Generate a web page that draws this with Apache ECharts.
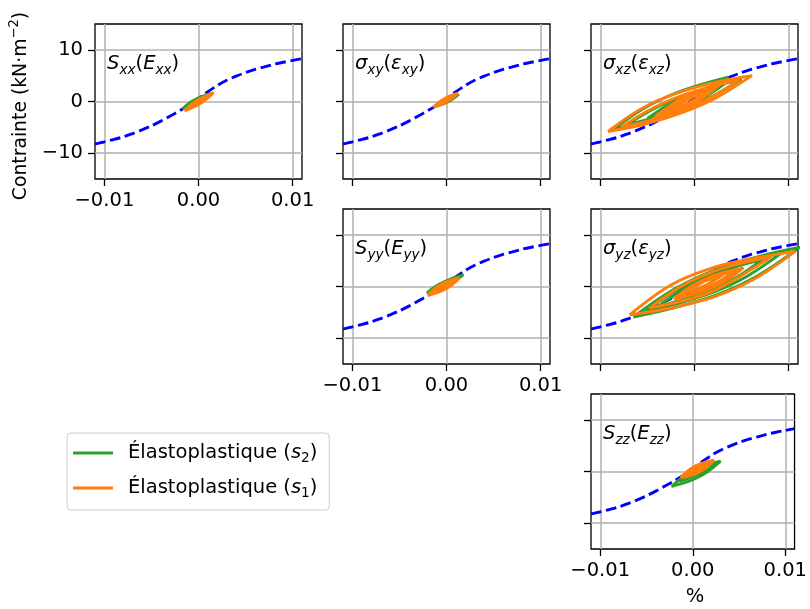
<!DOCTYPE html>
<html><head><meta charset="utf-8">
<script src="https://cdn.jsdelivr.net/npm/echarts@6/dist/echarts.min.js"></script>
<style>html,body{margin:0;padding:0;background:#fff}#c{width:810px;height:609px}</style>
</head><body><div id="c"></div>
<script>
// ---------- data ----------
const strainTicks = [-0.01, 0, 0.01];
const stressTicks = [-10, 0, 10];
const backboneStrain = [-0.011,-0.010,-0.009,-0.008,-0.007,-0.006,-0.005,-0.004,-0.003,-0.002,-0.001,0,0.001,0.002,0.003,0.004,0.005,0.006,0.007,0.008,0.009,0.010,0.011];
const backboneStress = [-8.2,-7.8,-7.35,-6.85,-6.2,-5.5,-4.7,-3.8,-2.8,-1.8,-0.7,0.6,1.9,3.1,4.1,4.9,5.6,6.2,6.7,7.2,7.6,7.95,8.3];
const seriesNames = ['Élastoplastique (s2)', 'Élastoplastique (s1)'];
const panelTitles = [
  '{m|S}{s|xx}{p|(}{m|E}{s|xx}{p|)}',
  '{m|σ}{s|xy}{p|(}{m|ε}{s|xy}{p|)}',
  '{m|σ}{s|xz}{p|(}{m|ε}{s|xz}{p|)}',
  '{m|S}{s|yy}{p|(}{m|E}{s|yy}{p|)}',
  '{m|σ}{s|yz}{p|(}{m|ε}{s|yz}{p|)}',
  '{m|S}{s|zz}{p|(}{m|E}{s|zz}{p|)}'
];
const sxxGreen = [
 [[-0.0017,-1.4],[-0.00095,-0.275],[-0.0002,0.525],[0.00055,1.075],[0.0013,1.5],[0.00055,0.375],[-0.0002,-0.425],[-0.00095,-0.975],[-0.0017,-1.4]]
];
const sxxOrange = [
 [[-0.0015,-1.8],[-0.000725,-0.525],[0.00005,0.425],[0.000825,1.125],[0.0016,1.7],[0.000825,0.425],[0.00005,-0.525],[-0.000725,-1.225],[-0.0015,-1.8]],
 [[-0.0012,-1.4],[-0.000575,-0.54],[0.00005,0.19],[0.000675,0.82],[0.0013,1.4],[0.000675,0.54],[0.00005,-0.19],[-0.000575,-0.82],[-0.0012,-1.4]]
];
const sxyGreen = [
 [[-0.0010,-0.9],[-0.000425,-0.045],[0.00015,0.58],[0.000725,1.035],[0.0013,1.4],[0.000725,0.545],[0.00015,-0.08],[-0.000425,-0.535],[-0.0010,-0.9]]
];
const sxyOrange = [
 [[-0.0014,-1.1],[-0.00075,-0.065],[-0.0001,0.68],[0.00055,1.195],[0.0012,1.6],[0.00055,0.565],[-0.0001,-0.18],[-0.00075,-0.695],[-0.0014,-1.1]],
 [[-0.0011,-0.8],[-0.0006,-0.115],[-0.0001,0.44],[0.0004,0.895],[0.0009,1.3],[0.0004,0.615],[-0.0001,0.06],[-0.0006,-0.395],[-0.0011,-0.8]]
];
const sxzGreen = [
 [[-0.0086,-5.4],[-0.00555,-1.515],[-0.0025,1.265],[0.00055,3.195],[0.0036,4.7],[0.00055,0.815],[-0.0025,-1.965],[-0.00555,-3.895],[-0.0086,-5.4]],
 [[-0.0072,-4.5],[-0.00415,-1.26],[-0.0011,1.135],[0.00195,2.88],[0.0050,4.3],[0.00195,1.06],[-0.0011,-1.335],[-0.00415,-3.08],[-0.0072,-4.5]],
 [[-0.0050,-3.3],[-0.00295,-0.825],[-0.0009,1.0],[0.00115,2.325],[0.0032,3.4],[0.00115,0.925],[-0.0009,-0.9],[-0.00295,-2.225],[-0.0050,-3.3]]
];
const sxzOrange = [
 [[-0.0092,-5.8],[-0.005375,-1.12],[-0.00155,1.8],[0.002275,3.73],[0.0061,5.0],[0.002275,0.7],[-0.00155,-2.3],[-0.005375,-4.4],[-0.0092,-5.8]],
 [[-0.0078,-5.0],[-0.00465,-1.5],[-0.0015,1.025],[0.00165,2.8],[0.0048,4.2],[0.00165,0.7],[-0.0015,-1.825],[-0.00465,-3.6],[-0.0078,-5.0]],
 [[-0.0045,-3.5],[-0.00265,-0.845],[-0.0008,1.095],[0.00105,2.485],[0.0029,3.6],[0.00105,0.945],[-0.0008,-0.995],[-0.00265,-2.385],[-0.0045,-3.5]],
 [[-0.0040,-3.1],[-0.0024,-0.9],[-0.0007,0.9],[0.0009,2.2],[0.0026,3.2],[0.0009,1.2],[-0.0007,-0.7],[-0.0024,-2.2],[-0.0040,-3.1]],
 [[-0.0035,-2.6],[-0.002075,-0.665],[-0.00065,0.815],[0.000775,1.945],[0.0022,2.9],[0.000775,0.965],[-0.00065,-0.515],[-0.002075,-1.645],[-0.0035,-2.6]],
 [[-0.0025,-1.8],[-0.0015,-0.48],[-0.0005,0.58],[0.0005,1.44],[0.0015,2.2],[0.0005,0.88],[-0.0005,-0.18],[-0.0015,-1.04],[-0.0025,-1.8]]
];
const syyGreen = [
 [[-0.0021,-1.3],[-0.001125,0.04],[-0.00015,1.02],[0.000825,1.73],[0.0018,2.3],[0.000825,0.96],[-0.00015,-0.02],[-0.001125,-0.73],[-0.0021,-1.3]]
];
const syyOrange = [
 [[-0.0020,-1.7],[-0.00115,-0.29],[-0.0003,0.665],[0.00055,1.27],[0.0014,1.7],[0.00055,0.29],[-0.0003,-0.665],[-0.00115,-1.27],[-0.0020,-1.7]],
 [[-0.0016,-1.3],[-0.000925,-0.41],[-0.00025,0.285],[0.000425,0.83],[0.0011,1.3],[0.000425,0.41],[-0.00025,-0.285],[-0.000925,-0.83],[-0.0016,-1.3]]
];
const syzGreen = [
 [[-0.0065,-5.9],[-0.002075,-0.445],[0.00235,3.32],[0.006775,5.785],[0.0112,7.6],[0.006775,2.145],[0.00235,-1.62],[-0.002075,-4.085],[-0.0065,-5.9]],
 [[-0.0052,-4.8],[-0.0016,-0.4],[0.002,2.7],[0.0056,4.8],[0.0092,6.4],[0.0056,2.0],[0.002,-1.1],[-0.0016,-3.2],[-0.0052,-4.8]],
 [[-0.0038,-3.8],[-0.00105,-0.35],[0.0017,2.125],[0.00445,3.85],[0.0072,5.2],[0.00445,1.75],[0.0017,-0.725],[-0.00105,-2.45],[-0.0038,-3.8]]
];
const syzOrange = [
 [[-0.0069,-5.5],[-0.0025,0.3],[0.0019,3.6],[0.0063,5.465],[0.0107,6.8],[0.0063,1.405],[0.0019,-2.105],[-0.0025,-4.165],[-0.0069,-5.5]],
 [[-0.0048,-4.2],[-0.00155,-0.1],[0.0017,2.7],[0.00495,4.5],[0.0082,5.8],[0.00495,2.1],[0.0017,-1.1],[-0.00155,-2.9],[-0.0048,-4.2]],
 [[-0.0022,-2.4],[-0.00035,0.06],[0.0015,1.74],[0.00335,2.82],[0.0052,3.6],[0.00335,1.14],[0.0015,-0.54],[-0.00035,-1.62],[-0.0022,-2.4]],
 [[-0.0018,-2.0],[-0.0002,0.1],[0.0014,1.55],[0.0030,2.55],[0.0047,3.3],[0.0030,1.2],[0.0014,-0.3],[-0.0002,-1.3],[-0.0018,-2.0]],
 [[-0.0015,-1.7],[-0.000075,0.115],[0.00135,1.41],[0.002775,2.305],[0.0042,3.0],[0.002775,1.185],[0.00135,-0.11],[-0.000075,-1.005],[-0.0015,-1.7]],
 [[-0.0008,-1.0],[0.00015,0.16],[0.0011,1.03],[0.00205,1.67],[0.003,2.2],[0.00205,1.13],[0.0011,0.17],[0.00015,-0.47],[-0.0008,-1.0]]
];
const szzGreen = [
 [[-0.0023,-2.9],[-0.000975,-0.955],[0.00035,0.405],[0.001675,1.315],[0.0030,2.0],[0.001675,0.055],[0.00035,-1.305],[-0.000975,-2.215],[-0.0023,-2.9]],
 [[-0.0015,-1.9],[-0.000425,-0.575],[0.00065,0.425],[0.001725,1.175],[0.0028,1.8],[0.001725,0.475],[0.00065,-0.525],[-0.000425,-1.275],[-0.0015,-1.9]]
];
const szzOrange = [
 [[-0.0013,-1.2],[-0.0004,0.29],[0.0005,1.26],[0.0014,1.83],[0.0023,2.2],[0.0014,0.71],[0.0005,-0.26],[-0.0004,-0.83],[-0.0013,-1.2]],
 [[-0.0011,-1.0],[-0.0003,0.11],[0.0005,0.93],[0.0013,1.52],[0.0021,2.0],[0.0013,0.89],[0.0005,0.07],[-0.0003,-0.52],[-0.0011,-1.0]],
 [[-0.0009,-0.8],[-0.0002,0.09],[0.0005,0.785],[0.0012,1.33],[0.0019,1.8],[0.0012,0.91],[0.0005,0.215],[-0.0002,-0.33],[-0.0009,-0.8]]
];

// ---------- layout ----------
const FONT = 'DejaVu Sans';
const FS = 19.5;
const panels = [
  {left: 95,  top: 24,  green: sxxGreen, orange: sxxOrange, xLab: true,  yLab: true},
  {left: 343, top: 24,  green: sxyGreen, orange: sxyOrange, xLab: false, yLab: false},
  {left: 591, top: 24,  green: sxzGreen, orange: sxzOrange, xLab: false, yLab: false},
  {left: 343, top: 209, green: syyGreen, orange: syyOrange, xLab: true,  yLab: false},
  {left: 591, top: 209, green: syzGreen, orange: syzOrange, xLab: false, yLab: false},
  {left: 591, top: 394, green: szzGreen, orange: szzOrange, xLab: true,  yLab: false}
];
const W = 207, H = 155;
const fmtX = v => (v < 0 ? '\u2212' : '') + Math.abs(v).toFixed(2);
const fmtY = v => (v < 0 ? '\u2212' : '') + Math.abs(v).toFixed(0);
const mathRich = {
  m: {fontFamily: FONT, fontStyle: 'italic', fontSize: FS, lineHeight: 26, color: '#000'},
  p: {fontFamily: FONT, fontSize: FS, lineHeight: 26, color: '#000'},
  s: {fontFamily: FONT, fontStyle: 'italic', fontSize: FS * 0.7, lineHeight: 14, verticalAlign: 'bottom', color: '#000'}
};

const grids = [], xAxes = [], yAxes = [], series = [], graphics = [];
panels.forEach((p, i) => {
  grids.push({left: p.left, top: p.top, width: W, height: H, show: true, borderColor: '#000', borderWidth: 1.3, backgroundColor: 'transparent'});
  xAxes.push({
    gridIndex: i, type: 'value', min: -0.011, max: 0.011, position: 'bottom',
    axisLine: {show: false, onZero: false},
    axisTick: {show: true, inside: false, customValues: strainTicks, length: 7, lineStyle: {color: '#000', width: 1.3}},
    axisLabel: {show: p.xLab, inside: false, customValues: strainTicks, formatter: fmtX, fontFamily: FONT, fontSize: FS, color: '#000', margin: 12},
    splitLine: {show: true, lineStyle: {color: '#b0b0b0', width: 1.5}}
  });
  yAxes.push({
    gridIndex: i, type: 'value', min: -15, max: 15, position: 'left',
    axisLine: {show: false, onZero: false},
    axisTick: {show: true, inside: false, customValues: stressTicks, length: 7, lineStyle: {color: '#000', width: 1.3}},
    axisLabel: {show: p.yLab, inside: false, customValues: stressTicks, formatter: fmtY, fontFamily: FONT, fontSize: FS, color: '#000', margin: 12},
    splitLine: {show: true, lineStyle: {color: '#b0b0b0', width: 1.5}}
  });
  series.push({
    type: 'line', xAxisIndex: i, yAxisIndex: i, showSymbol: false, smooth: 0.3, silent: true, z: 2,
    data: backboneStrain.map((x, k) => [x, backboneStress[k]]),
    lineStyle: {color: '#0000ff', width: 2.9, type: [10.7, 4.6]}
  });
  p.green.forEach(loop => series.push({
    name: seriesNames[0], type: 'line', xAxisIndex: i, yAxisIndex: i, showSymbol: false, smooth: 0.35, z: 3,
    data: loop, color: '#2ca02c', lineStyle: {color: '#2ca02c', width: 2.9}
  }));
  p.orange.forEach(loop => series.push({
    name: seriesNames[1], type: 'line', xAxisIndex: i, yAxisIndex: i, showSymbol: false, smooth: 0.35, z: 4,
    data: loop, color: '#ff7f0e', lineStyle: {color: '#ff7f0e', width: 2.9}
  }));
  graphics.push({
    type: 'text', x: p.left + 12, y: p.top + 40, z: 100,
    style: {text: panelTitles[i], rich: mathRich, align: 'left', verticalAlign: 'middle'}
  });
});
graphics.push({
  type: 'text', x: 21, y: 106, rotation: Math.PI / 2, z: 100,
  style: {
    text: '{p|Contrainte (kN·m}{u|\u22122}{p|)}', align: 'center', verticalAlign: 'middle',
    rich: {
      p: {fontFamily: FONT, fontSize: 18.8, lineHeight: 26, color: '#000'},
      u: {fontFamily: FONT, fontSize: 13.2, lineHeight: 14, verticalAlign: 'top', color: '#000'}
    }
  }
});
graphics.push({
  type: 'text', x: 695, y: 597, z: 100,
  style: {text: '%', fontFamily: FONT, fontSize: FS, fill: '#000', align: 'center', verticalAlign: 'middle'}
});

const chart = echarts.init(document.getElementById('c'), null, {renderer: 'canvas'});
chart.setOption({
  animation: false,
  backgroundColor: '#fff',
  grid: grids, xAxis: xAxes, yAxis: yAxes, series: series, graphic: graphics,
  legend: {
    data: seriesNames, orient: 'vertical', left: 67, top: 433,
    icon: 'rect', itemWidth: 40, itemHeight: 3, itemGap: 13,
    padding: [10, 12, 10, 6],
    borderColor: '#cccccc', borderWidth: 1, borderRadius: 4, backgroundColor: 'rgba(255,255,255,0.8)',
    selectedMode: false,
    formatter: name => name === seriesNames[0]
      ? '{n|Élastoplastique (}{i|s}{b|2}{n|)}'
      : '{n|Élastoplastique (}{i|s}{b|1}{n|)}',
    textStyle: {
      fontFamily: FONT, fontSize: FS, color: '#000', padding: [0, 0, 0, 10],
      rich: {
        n: {fontFamily: FONT, fontSize: FS, lineHeight: 24, color: '#000'},
        i: {fontFamily: FONT, fontStyle: 'italic', fontSize: FS, lineHeight: 24, color: '#000'},
        b: {fontFamily: FONT, fontSize: FS * 0.7, lineHeight: 13, verticalAlign: 'bottom', color: '#000'}
      }
    }
  }
});
</script>
</body></html>
